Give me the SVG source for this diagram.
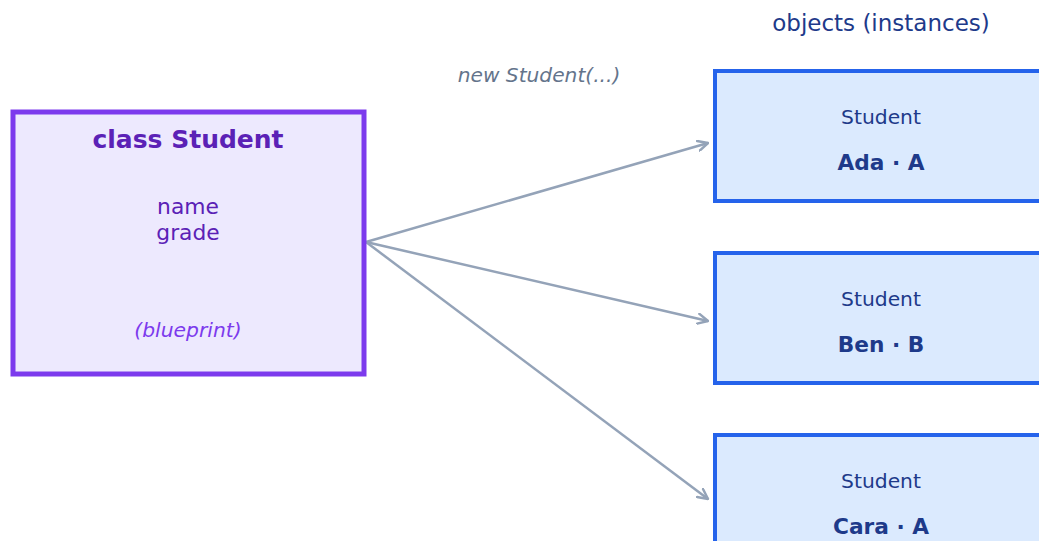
<svg xmlns="http://www.w3.org/2000/svg" width="1039" height="541" viewBox="0 0 1039 541">
  <style>
    text { font-family: "DejaVu Sans", "Liberation Sans", sans-serif; text-anchor: middle; }
    .cls { fill: #ede9fe; stroke: #7c3aed; stroke-width: 5; }
    .obj { fill: #dbeafe; stroke: #2563eb; stroke-width: 4; }
    .cls-title { font-size: 25px; font-weight: bold; fill: #5b21b6; }
    .cls-field { font-size: 21.8px; fill: #5b21b6; }
    .cls-note { font-size: 20.3px; font-style: italic; fill: #7c3aed; }
    .obj-type { font-size: 20.3px; fill: #1e3a8a; }
    .obj-val { font-size: 21.7px; font-weight: bold; fill: #1e3a8a; }
    .heading { font-size: 23px; fill: #1e3a8a; }
    .edge-label { font-size: 20.2px; font-style: italic; fill: #64748b; }
    .edge { fill: none; stroke: #94a3b8; stroke-width: 2.5; marker-end: url(#arrow); }
  </style>
  <defs>
    <marker id="arrow" viewBox="0 0 12 12" refX="11" refY="6" markerWidth="12" markerHeight="12" markerUnits="userSpaceOnUse" orient="auto">
      <path d="M1,1 L11,6 L1,11" fill="none" stroke="#94a3b8" stroke-width="2.5" stroke-linecap="round" stroke-linejoin="round"/>
    </marker>
  </defs>

  <text class="heading" x="881" y="31">objects (instances)</text>
  <text class="edge-label" x="539" y="82">new Student(...)</text>

  <g id="connectors">
    <line class="edge" x1="366" y1="242" x2="708" y2="143"/>
    <line class="edge" x1="366" y1="242" x2="708" y2="321"/>
    <line class="edge" x1="366" y1="242" x2="708" y2="499"/>
  </g>

  <g id="class-student">
    <rect class="cls" x="13" y="112" width="351" height="262"/>
    <text class="cls-title" x="188" y="148">class Student</text>
    <text class="cls-field" x="188" y="214">name</text>
    <text class="cls-field" x="188" y="240">grade</text>
    <text class="cls-note" x="188" y="337">(blueprint)</text>
  </g>

  <g id="obj-ada">
    <rect class="obj" x="715" y="71" width="334" height="130"/>
    <text class="obj-type" x="881" y="124">Student</text>
    <text class="obj-val" x="881" y="170">Ada · A</text>
  </g>

  <g id="obj-ben">
    <rect class="obj" x="715" y="253" width="334" height="130"/>
    <text class="obj-type" x="881" y="306">Student</text>
    <text class="obj-val" x="881" y="352">Ben · B</text>
  </g>

  <g id="obj-cara">
    <rect class="obj" x="715" y="435" width="334" height="130"/>
    <text class="obj-type" x="881" y="488">Student</text>
    <text class="obj-val" x="881" y="534">Cara · A</text>
  </g>
</svg>
